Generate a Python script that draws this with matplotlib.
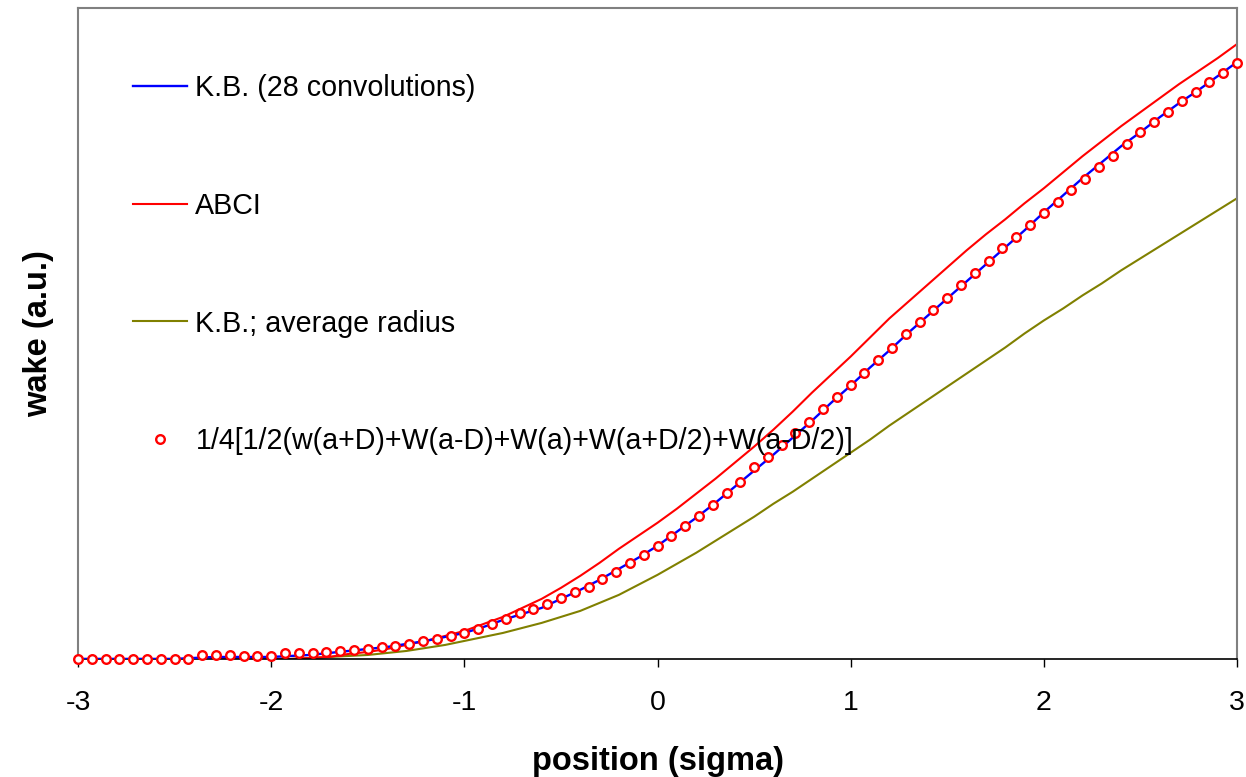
import matplotlib
matplotlib.use("Agg")
from matplotlib import pyplot as plt
import numpy as np

plt.rcParams['font.family'] = ['Liberation Sans', 'DejaVu Sans']
plt.rcParams['axes.unicode_minus'] = False

# position (sigma) for the line curves
x_line = [-3.0, -2.9, -2.8, -2.7, -2.6, -2.5, -2.4, -2.3, -2.2, -2.1,
          -2.0, -1.9, -1.8, -1.7, -1.6, -1.5, -1.4, -1.3, -1.2, -1.1,
          -1.0, -0.9, -0.8, -0.7, -0.6, -0.5, -0.4, -0.3, -0.2, -0.1,
          0.0, 0.1, 0.2, 0.3, 0.4, 0.5, 0.6, 0.7, 0.8, 0.9,
          1.0, 1.1, 1.2, 1.3, 1.4, 1.5, 1.6, 1.7, 1.8, 1.9,
          2.0, 2.1, 2.2, 2.3, 2.4, 2.5, 2.6, 2.7, 2.8, 2.9, 3.0]

kb_28 = [0, 0, 0, 0, 0, 0, 1, 2, 2, 2,
         2, 3, 4, 6, 8, 10, 12, 15, 18, 22,
         26, 32, 39, 45, 51, 60, 69, 79, 90, 101,
         113, 127, 141, 156, 172, 188, 204, 221, 238, 256,
         273, 291, 308, 326, 343, 360, 377, 394, 411, 428,
         446, 463, 480, 496, 512, 526, 541, 555, 568, 582, 596]

abci = [0, 0, 0, 0, 0, 0, 0, 0, 0, 0,
        0, 0, 1, 2, 5, 7, 10, 14, 18, 23,
        28, 35, 42, 51, 60, 71, 83, 96, 110, 123,
        136, 150, 165, 180, 196, 212, 229, 247, 266, 284,
        302, 321, 340, 357, 374, 391, 408, 424, 439, 455,
        470, 486, 502, 517, 532, 546, 560, 574, 587, 600, 614]

kb_avg = [0, 0, 0, 0, 0, 0, 0, 0, 0, 0,
          0, 0, 1, 2, 3, 4, 6, 8, 11, 14,
          18, 22, 26, 31, 36, 42, 48, 56, 64, 74,
          84, 95, 106, 118, 130, 142, 155, 167, 180, 193,
          206, 219, 233, 246, 259, 272, 285, 298, 311, 325,
          338, 350, 363, 375, 388, 400, 412, 424, 436, 448, 460]

# weighted average of shifted wakes, 85 samples
x_pts = list(np.linspace(-3, 3, 85))
avg_pts = [0, 0, 0, 0, 0, 0, 0, 0, 0, 4,
           4, 4, 3, 3, 3, 6, 6, 6, 7, 8,
           9, 10, 12, 13, 15, 18, 20, 23, 26, 30,
           35, 40, 46, 50, 55, 61, 67, 72, 80, 87,
           96, 104, 113, 123, 133, 143, 154, 166, 177, 192,
           202, 214, 226, 237, 250, 262, 274, 286, 299, 311,
           324, 336, 348, 360, 373, 385, 397, 410, 421, 433,
           445, 456, 468, 479, 491, 502, 514, 526, 536, 546,
           557, 566, 576, 585, 595]

labels = ["K.B. (28 convolutions)", "ABCI", "K.B.; average radius",
          "1/4[1/2(w(a+D)+W(a-D)+W(a)+W(a+D/2)+W(a-D/2)]"]

fig = plt.figure(figsize=(12.46, 7.77), dpi=100)
ax = fig.add_axes([0.0626, 0.1519, 0.9302, 0.8378])

ax.plot(x_line, kb_28, color="#0000ff", lw=1.7, label=labels[0], zorder=3)
ax.plot(x_line, abci, color="#ff0000", lw=1.5, label=labels[1], zorder=2)
ax.plot(x_line, kb_avg, color="#808000", lw=1.5, label=labels[2], zorder=1)
ax.plot(x_pts, avg_pts, ls="none", marker="o", ms=6.2, mfc="white",
        mec="#ff0000", mew=1.7, label=labels[3], zorder=4, clip_on=False)

ax.set_xlim(-3, 3)
ax.set_ylim(0, 650)
ax.set_xticks([-3, -2, -1, 0, 1, 2, 3])
ax.set_yticks([])
ax.tick_params(axis="x", direction="out", length=6, width=1, pad=16,
               labelsize=20.5, color="black")

for side in ["left", "top", "right"]:
    ax.spines[side].set_color("#808080")
    ax.spines[side].set_linewidth(1.5)
ax.spines["bottom"].set_color("black")
ax.spines["bottom"].set_linewidth(1.2)

ax.set_xlabel("position (sigma)", fontsize=23.5, fontweight="bold", labelpad=22)
ax.set_ylabel("wake (a.u.)", fontsize=23.5, fontweight="bold", labelpad=17)

leg = ax.legend(loc="upper left", bbox_to_anchor=(0.0475, 0.898),
                frameon=False, fontsize=20.6, labelspacing=3.13,
                handlelength=1.9, handletextpad=0.28, borderpad=0,
                borderaxespad=0, numpoints=1)

fig.savefig("out.png", dpi=100)
